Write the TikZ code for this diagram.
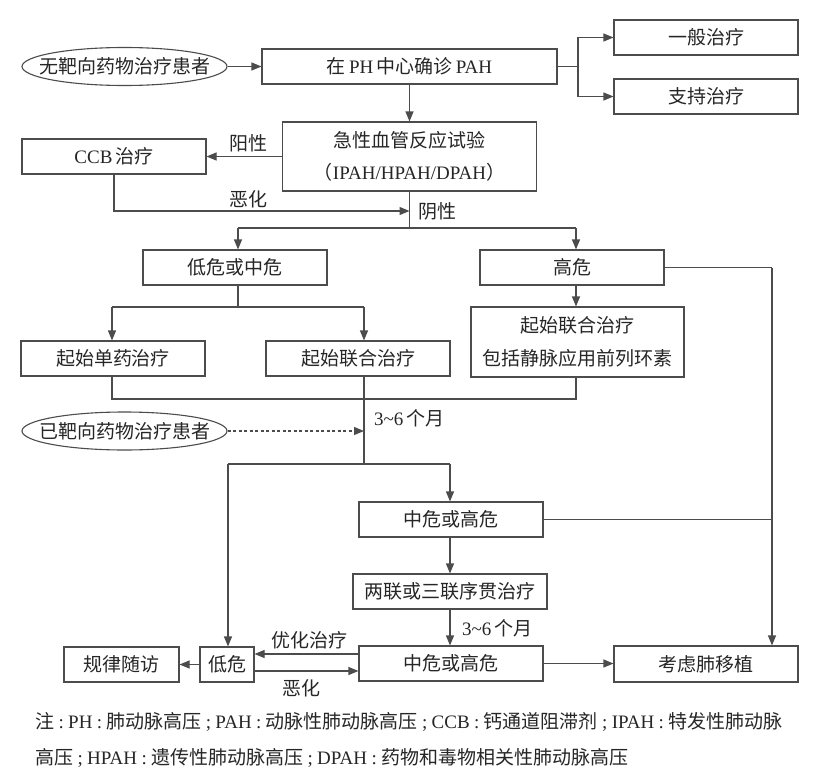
\documentclass[tikz,border=0pt]{standalone}
\usepackage{fontspec}
\setmainfont{Liberation Serif}
\newfontfamily\cjk{Noto Sans CJK SC}
\usetikzlibrary{arrows.meta,shapes.geometric}
\newcommand\zh[1]{{\cjk #1}}
\newcommand\pct[1]{\makebox[14pt]{#1}}
\definecolor{linec}{gray}{0.3}
\definecolor{txt}{gray}{0.15}
\begin{document}
\begin{tikzpicture}[x=1pt,y=-1pt, font=\fontsize{19}{23}\selectfont, text=txt,
 ln/.style={draw=linec,line width=1.1pt},
 arr/.style={ln,-{Triangle[length=10pt,width=8pt]}},
 bx/.style={ln,rectangle,inner sep=0pt,minimum height=35pt,align=center},
 el/.style={ln,ellipse,inner sep=0pt,minimum width=205pt,minimum height=38pt},
 lab/.style={inner sep=0pt}]
\useasboundingbox[fill=white] (0,0) rectangle (822,779);
% nodes
\node[el,label={center:\zh{无靶向药物治疗患者}}] (e1) at (124.5,66.5) {};
\node[bx,minimum width=295pt] (b1) at (409.5,66.5) {\zh{在}\,PH\,\zh{中心确诊}\,PAH};
\node[bx,minimum width=184pt] (g1) at (706,37.5) {\zh{一般治疗}};
\node[bx,minimum width=184pt] (g2) at (706,96.5) {\zh{支持治疗}};
\node[bx,minimum width=254pt,minimum height=69pt,font=\fontsize{19}{32}\selectfont] (t) at (409.5,156.5) {\zh{急性血管反应试验}\\\zh{（}IPAH/HPAH/DPAH\zh{）}};
\node[bx,minimum width=184pt] (ccb) at (114,156.5) {CCB\,\zh{治疗}};
\node[bx,minimum width=184pt] (lm) at (235,267.5) {\zh{低危或中危}};
\node[bx,minimum width=184pt] (hi) at (572,267.5) {\zh{高危}};
\node[bx,minimum width=184pt] (s1) at (113,358.5) {\zh{起始单药治疗}};
\node[bx,minimum width=184pt] (s2) at (358,358.5) {\zh{起始联合治疗}};
\node[bx,minimum width=213pt,minimum height=70pt,font=\fontsize{19}{33}\selectfont] (s3) at (577.5,342) {\zh{起始联合治疗}\\\zh{包括静脉应用前列环素}};
\node[el,label={center:\zh{已靶向药物治疗患者}}] (e2) at (124.5,431) {};
\node[bx,minimum width=184pt] (m1) at (451,519.5) {\zh{中危或高危}};
\node[bx,minimum width=194pt] (du) at (450,591.5) {\zh{两联或三联序贯治疗}};
\node[bx,minimum width=184pt] (m2) at (451,663.5) {\zh{中危或高危}};
\node[bx,minimum width=184pt,minimum height=36pt] (lt) at (706,664) {\zh{考虑肺移植}};
\node[bx,minimum width=54pt] (lo) at (227,664.5) {\zh{低危}};
\node[bx,minimum width=115pt] (fu) at (121.5,664.5) {\zh{规律随访}};
% labels
\node[lab] (yang) at (248,143) {\zh{阳性}};
\node[lab] (eh1) at (248,199) {\zh{恶化}};
\node[lab,anchor=west] (yin) at (418,211) {\zh{阴性}};
\node[lab,anchor=west] (m36a) at (374,418) {3\textasciitilde6\,\zh{个月}};
\node[lab,anchor=west] (m36b) at (462,628) {3\textasciitilde6\,\zh{个月}};
\node[lab] (opt) at (309,640) {\zh{优化治疗}};
\node[lab] (eh2) at (301,688) {\zh{恶化}};
% coordinates
\coordinate (r1) at (578,66.5);
\coordinate (j0) at (409.5,228);
\coordinate (c1) at (114,211);
\coordinate (jl) at (238,228);
\coordinate (jr) at (576,228);
\coordinate (k0) at (238,307);
\coordinate (kl) at (112,307);
\coordinate (kr) at (364,307);
\coordinate (h1) at (772,267.5);
\coordinate (ml) at (112,399);
\coordinate (mr) at (576,399);
\coordinate (mc) at (364,399);
\coordinate (n0) at (364,464);
\coordinate (d1) at (364,431);
\coordinate (nl) at (228,464);
\coordinate (nr) at (450,464);
\coordinate (o1) at ([yshift=9.5pt]m2.west);
\coordinate (o2) at ([yshift=-7.5pt]m2.west);
% connectors
\draw[arr] (e1.east) -- (b1.west);
\draw[arr] (b1.east) -- (r1) |- (g1.west);
\draw[arr] (r1) |- (g2.west);
\draw[arr] (b1.south) -- (t.north);
\draw[arr] (t.west) -- (ccb.east);
\draw[arr] (ccb.south) -- (c1) -- (c1 -| j0);
\draw[ln] (t.south) -- (j0);
\draw[ln] (jl) -- (jr);
\draw[arr] (jl) -- (jl |- lm.north);
\draw[arr] (jr) -- (jr |- hi.north);
\draw[ln] (k0 |- lm.south) -- (k0);
\draw[ln] (kl) -- (kr);
\draw[arr] (kl) -- (kl |- s1.north);
\draw[arr] (kr) -- (kr |- s2.north);
\draw[arr] (jr |- hi.south) -- (jr |- s3.north);
\draw[ln] (hi.east) -- (h1);
\draw[arr] (h1) -- (h1 |- lt.north);
\draw[ln] (ml |- s1.south) -- (ml) -- (mr) -- (mr |- s3.south);
\draw[ln] (mc |- s2.south) -- (n0);
\draw[arr,dash pattern=on 3pt off 2.5pt] (e2.east) -- (d1);
\draw[ln] (nl) -- (nr);
\draw[arr] (nl) -- (nl |- lo.north);
\draw[arr] (nr) -- (nr |- m1.north);
\draw[ln] (m1.east) -- (m1.east -| h1);
\draw[arr] (nr |- m1.south) -- (nr |- du.north);
\draw[arr] (nr |- du.south) -- (nr |- m2.north);
\draw[arr] (m2.east) -- (m2.east -| lt.west);
\draw[arr] (lo.west) -- (fu.east);
\draw[arr] (o1) -- (o1 -| lo.east);
\draw[arr] (o2 -| lo.east) -- (o2);
% footnote
\node[lab,anchor=west] (fn1) at (35,722) {\zh{注}\pct{:}PH\pct{:}\zh{肺动脉高压}\pct{;}PAH\pct{:}\zh{动脉性肺动脉高压}\pct{;}CCB\pct{:}\zh{钙通道阻滞剂}\pct{;}IPAH\pct{:}\zh{特发性肺动脉}};
\node[lab,anchor=west] (fn2) at (35,758) {\zh{高压}\pct{;}HPAH\pct{:}\zh{遗传性肺动脉高压}\pct{;}DPAH\pct{:}\zh{药物和毒物相关性肺动脉高压}};
\end{tikzpicture}
\end{document}
